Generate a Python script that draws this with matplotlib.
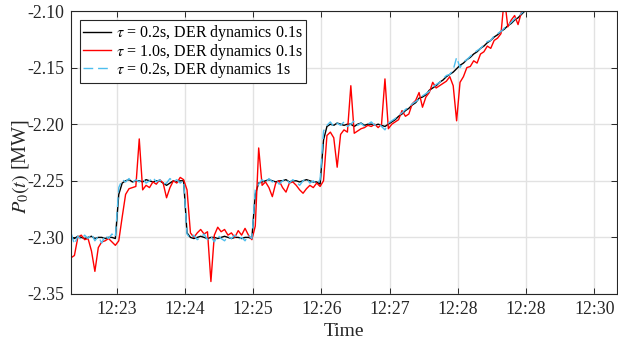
import numpy as np
import matplotlib
matplotlib.use('Agg')
import matplotlib.pyplot as plt

plt.rcParams['font.family'] = ['Liberation Serif', 'DejaVu Serif']
plt.rcParams['mathtext.fontset'] = 'stix'
plt.rcParams['axes.unicode_minus'] = False

# sample times, seconds after 12:22:20 (3 s sampling)
t_sec = np.arange(0, 402, 3)

# tau = 0.2 s, DER dynamics 0.1 s
p_tau02_der01 = [
    -2.300, -2.301, -2.299, -2.300, -2.301, -2.300, -2.299, -2.301, -2.300, -2.300,
    -2.301, -2.300, -2.300, -2.301, -2.262, -2.252, -2.250, -2.249, -2.251, -2.250,
    -2.250, -2.251, -2.249, -2.250, -2.251, -2.250, -2.250, -2.252, -2.254, -2.252,
    -2.250, -2.251, -2.250, -2.250, -2.296, -2.300, -2.301, -2.300, -2.299, -2.300,
    -2.301, -2.300, -2.300, -2.301, -2.300, -2.299, -2.300, -2.301, -2.300, -2.300,
    -2.301, -2.300, -2.300, -2.301, -2.262, -2.252, -2.251, -2.250, -2.249, -2.250,
    -2.251, -2.250, -2.250, -2.249, -2.251, -2.250, -2.250, -2.251, -2.250, -2.249,
    -2.250, -2.251, -2.251, -2.253, -2.214, -2.202, -2.200, -2.201, -2.199, -2.200,
    -2.201, -2.200, -2.200, -2.202, -2.200, -2.199, -2.201, -2.200, -2.200, -2.201,
    -2.200, -2.201, -2.202, -2.200, -2.198, -2.196, -2.193, -2.191, -2.188, -2.186,
    -2.183, -2.181, -2.177, -2.176, -2.174, -2.170, -2.168, -2.166, -2.163, -2.161,
    -2.158, -2.156, -2.154, -2.151, -2.148, -2.146, -2.143, -2.141, -2.138, -2.136,
    -2.133, -2.131, -2.128, -2.126, -2.123, -2.121, -2.118, -2.116, -2.113, -2.111,
    -2.108, -2.106, -2.103, -2.100,
]

# tau = 1.0 s, DER dynamics 0.1 s
p_tau10_der01 = [
    -2.318, -2.316, -2.300, -2.298, -2.302, -2.301, -2.312, -2.330, -2.309, -2.304,
    -2.303, -2.301, -2.304, -2.307, -2.303, -2.282, -2.262, -2.257, -2.256, -2.255,
    -2.213, -2.258, -2.254, -2.256, -2.251, -2.253, -2.249, -2.252, -2.265, -2.256,
    -2.250, -2.252, -2.247, -2.249, -2.258, -2.296, -2.300, -2.296, -2.293, -2.297,
    -2.295, -2.339, -2.298, -2.291, -2.295, -2.293, -2.298, -2.296, -2.300, -2.294,
    -2.298, -2.292, -2.298, -2.302, -2.290, -2.221, -2.254, -2.251, -2.256, -2.264,
    -2.252, -2.250, -2.256, -2.260, -2.252, -2.251, -2.254, -2.258, -2.261, -2.257,
    -2.254, -2.256, -2.252, -2.255, -2.250, -2.210, -2.207, -2.212, -2.238, -2.209,
    -2.205, -2.207, -2.166, -2.208, -2.206, -2.204, -2.203, -2.201, -2.202, -2.200,
    -2.203, -2.200, -2.160, -2.204, -2.200, -2.198, -2.196, -2.188, -2.193, -2.191,
    -2.182, -2.179, -2.172, -2.185, -2.176, -2.172, -2.163, -2.168, -2.166, -2.164,
    -2.162, -2.158, -2.166, -2.197, -2.163, -2.158, -2.150, -2.149, -2.144, -2.146,
    -2.138, -2.136, -2.131, -2.133, -2.126, -2.124, -2.120, -2.088, -2.114, -2.108,
    -2.104, -2.112, -2.101, -2.097,
]

# tau = 0.2 s, DER dynamics 1 s
p_tau02_der1 = [
    -2.296, -2.306, -2.299, -2.302, -2.298, -2.301, -2.297, -2.303, -2.299, -2.305,
    -2.298, -2.301, -2.297, -2.300, -2.256, -2.249, -2.251, -2.248, -2.252, -2.249,
    -2.251, -2.248, -2.252, -2.250, -2.247, -2.251, -2.249, -2.253, -2.252, -2.248,
    -2.251, -2.249, -2.252, -2.250, -2.297, -2.301, -2.298, -2.302, -2.300, -2.297,
    -2.302, -2.299, -2.304, -2.298, -2.301, -2.303, -2.299, -2.301, -2.298, -2.302,
    -2.300, -2.303, -2.298, -2.301, -2.258, -2.253, -2.249, -2.252, -2.248, -2.251,
    -2.249, -2.253, -2.250, -2.248, -2.252, -2.249, -2.251, -2.254, -2.250, -2.248,
    -2.252, -2.250, -2.253, -2.249, -2.206, -2.201, -2.198, -2.202, -2.199, -2.201,
    -2.198, -2.202, -2.200, -2.197, -2.201, -2.199, -2.202, -2.200, -2.198, -2.201,
    -2.199, -2.202, -2.205, -2.199, -2.197, -2.195, -2.192, -2.190, -2.187, -2.185,
    -2.182, -2.180, -2.178, -2.175, -2.173, -2.171, -2.167, -2.165, -2.163, -2.160,
    -2.157, -2.156, -2.152, -2.141, -2.150, -2.145, -2.143, -2.140, -2.137, -2.135,
    -2.133, -2.130, -2.127, -2.126, -2.122, -2.120, -2.118, -2.115, -2.113, -2.110,
    -2.107, -2.105, -2.102, -2.099,
]

series_labels = [r'$\tau$ = 0.2s, DER dynamics 0.1s',
                 r'$\tau$ = 1.0s, DER dynamics 0.1s',
                 r'$\tau$ = 0.2s, DER dynamics 1s']

x_tick_sec = [40, 100, 160, 220, 280, 340, 400, 460]
x_tick_labels = ['12:23', '12:24', '12:25', '12:26', '12:27', '12:28', '12:28', '12:30']
y_ticks = [-2.35, -2.30, -2.25, -2.20, -2.15, -2.10]

fig = plt.figure(figsize=(6.18, 3.41), dpi=100)
ax = fig.add_axes([71 / 618, 1 - 294 / 341, 546 / 618, 283 / 341])

ax.plot(t_sec, p_tau02_der01, color='black', lw=1.0, label=series_labels[0])
ax.plot(t_sec, p_tau10_der01, color='#ff0000', lw=1.0, label=series_labels[1])
ax.plot(t_sec, p_tau02_der1, color='#4dbeee', lw=1.0, ls=(0, (7, 3.5)),
        label=series_labels[2])

ax.set_xlim(0, 480)
ax.set_ylim(-2.35, -2.10)
ax.set_xticks(x_tick_sec)
ax.set_xticklabels(x_tick_labels)
ax.set_yticks(y_ticks)
ax.set_yticklabels(['%.2f' % v for v in y_ticks])

ax.grid(True, color='#e2e2e2', lw=1.0)
ax.set_axisbelow(True)
for s in ax.spines.values():
    s.set_color('#262626')
    s.set_linewidth(0.8)
ax.tick_params(direction='in', length=4.5, width=0.7, colors='#262626',
               top=True, right=True, labelsize=12.8, pad=5)

ax.set_xlabel('Time', fontsize=14, color='#262626', labelpad=4)
ax.set_ylabel(r'$P_0(t)$ [MW]', fontsize=14.5, color='#262626')
ax.yaxis.set_label_coords(-0.074, 0.45)

leg = ax.legend(loc='upper left', bbox_to_anchor=((80 - 71) / 546, 1 - (20 - 11) / 283),
                borderaxespad=0, fontsize=11.5, frameon=True, fancybox=False,
                framealpha=1, edgecolor='#262626', handlelength=1.75,
                handletextpad=0.3, borderpad=0.2, labelspacing=-0.1)
leg.get_frame().set_linewidth(0.8)

fig.savefig('out.png', dpi=100)
